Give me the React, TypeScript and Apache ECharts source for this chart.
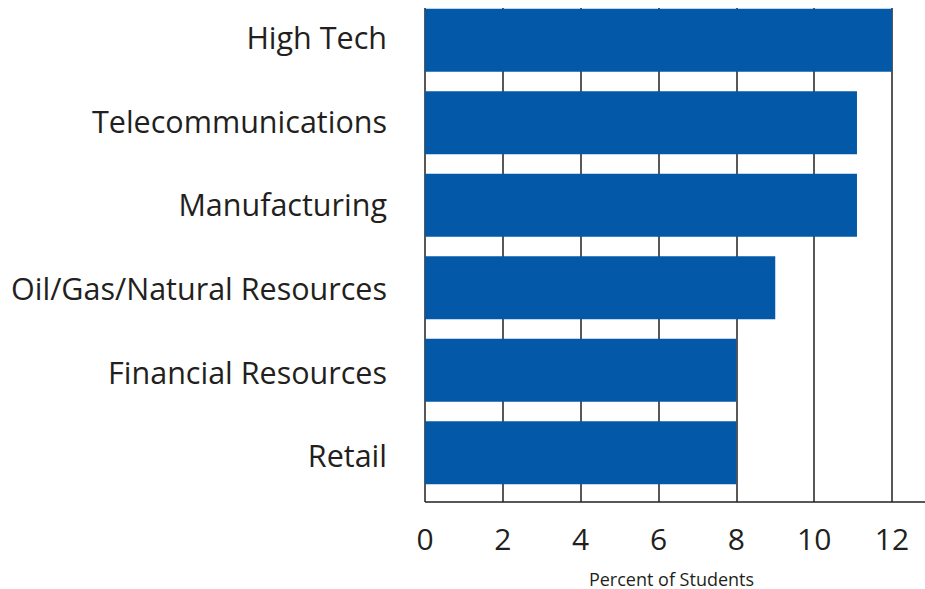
import React, { useEffect, useRef } from "react";
import * as echarts from "echarts";

const categories = [
  "High Tech",
  "Telecommunications",
  "Manufacturing",
  "Oil/Gas/Natural Resources",
  "Financial Resources",
  "Retail",
];
const percentValues = [12, 11.1, 11.1, 9, 8, 8];
const tickValues = [0, 2, 4, 6, 8, 10, 12];
const axisTitle = "Percent of Students";

const TEXT = "#231f20";
const FONT = "'Open Sans', 'Noto Sans', sans-serif";

export default function App() {
  const ref = useRef<HTMLDivElement>(null);
  useEffect(() => {
    if (!ref.current) return;
    const chart = echarts.init(ref.current, null, { renderer: "svg" });
    chart.setOption({
      animation: false,
      backgroundColor: "#ffffff",
      textStyle: { fontFamily: FONT, color: TEXT },
      grid: [
        { left: 425, top: -1, width: 467, height: 495, outerBoundsMode: "none", containLabel: false },
        { left: 425, top: 8, width: 467, height: 494, outerBoundsMode: "none", containLabel: false },
        { left: 425, top: -5, width: 467, height: 502, outerBoundsMode: "none", containLabel: false },
      ],
      xAxis: [
        {
          gridIndex: 0,
          type: "value",
          min: 0,
          max: 12,
          interval: 2,
          show: false,
        },
        {
          gridIndex: 1,
          type: "value",
          min: tickValues[0],
          max: tickValues[tickValues.length - 1],
          interval: 2,
          axisLine: { show: false },
          axisTick: { show: false },
          splitLine: { show: true, lineStyle: { color: TEXT, width: 1.5 } },
          axisLabel: {
            fontSize: 30,
            color: TEXT,
            fontFamily: FONT,
            margin: 21,
          },
          name: axisTitle,
          nameLocation: "middle",
          nameGap: 68,
          nameTextStyle: {
            fontSize: 18,
            lineHeight: 18,
            color: TEXT,
            fontFamily: FONT,
            padding: [0, 0, 0, 26],
          },
        },
        {
          gridIndex: 2,
          type: "value",
          min: 0,
          max: 12,
          interval: 2,
          show: false,
        },
      ],
      yAxis: [
        {
          gridIndex: 0,
          type: "category",
          inverse: true,
          data: categories,
          show: false,
        },
        {
          gridIndex: 1,
          type: "value",
          show: false,
          min: 0,
          max: 1,
        },
        {
          gridIndex: 2,
          type: "category",
          inverse: true,
          data: categories,
          axisLine: { show: false },
          axisTick: { show: false },
          splitLine: { show: false },
          axisLabel: {
            fontSize: 30.5,
            color: TEXT,
            fontFamily: FONT,
            margin: 38,
          },
        },
      ],
      series: [
        {
          type: "bar",
          xAxisIndex: 0,
          yAxisIndex: 0,
          data: percentValues,
          barWidth: 63,
          itemStyle: { color: "#0358a8" },
          z: 5,
        },
      ],
      graphic: [
        {
          type: "line",
          shape: { x1: 425, y1: 502, x2: 925, y2: 502 },
          style: { stroke: TEXT, lineWidth: 1.5 },
          z: 10,
        },
      ],
    });
    return () => chart.dispose();
  }, []);
  return (
    <div
      ref={ref}
      style={{ position: "fixed", left: 0, top: 0, width: 925, height: 589 }}
    />
  );
}
